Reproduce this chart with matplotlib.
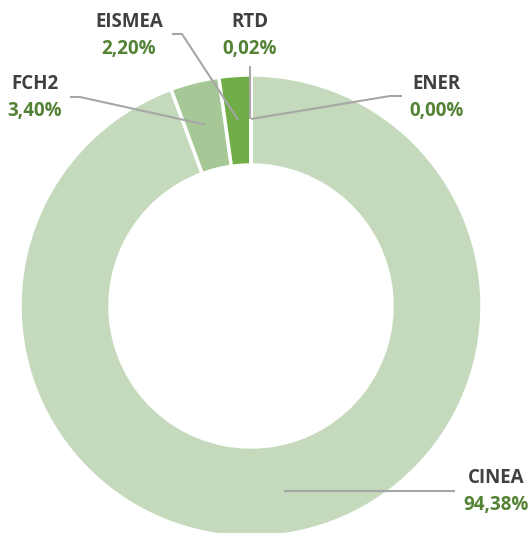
import numpy as np
import matplotlib.pyplot as plt

names = ['CINEA', 'FCH2', 'EISMEA', 'RTD', 'ENER']
values = [94.38, 3.40, 2.20, 0.02, 0.00]
colors = ['#c5d9bc', '#a6c897', '#70ad47', '#8fbf6e', '#b7d4a6']

# label layout in pixel coords: text centre, elbow point
label_pos = {
    'CINEA': (496, 478, 455, 491),
    'FCH2': (35, 84, 80, 97),
    'EISMEA': (129, 22, 182, 34),
    'RTD': (250, 22, 250, 66),
    'ENER': (437, 84, 390, 96),
}
label_start = {'CINEA': 455, 'FCH2': 70, 'EISMEA': 172, 'RTD': 250, 'ENER': 402}

W, H = 531, 533
fig = plt.figure(figsize=(W / 100, H / 100), dpi=100)
ax = fig.add_axes([0, 0, 1, 1])

cx, cy, R, r_in = 251, H - 306, 231, 141
ax.pie(values, colors=colors, startangle=90, counterclock=False,
       center=(cx, cy), radius=R, frame=True,
       wedgeprops=dict(width=R - r_in, edgecolor='white', linewidth=2.5))
ax.set_xlim(0, W)
ax.set_ylim(0, H)
ax.set_aspect('equal')
ax.axis('off')

tot = sum(values)
ang = 90
r_mid = 187
for n, v in zip(names, values):
    a = ang - v / tot * 180
    ang -= v / tot * 360
    px = cx + r_mid * np.cos(np.radians(a))
    py = cy + r_mid * np.sin(np.radians(a))
    tx, ty, ex, ey = label_pos[n]
    sx = label_start[n]
    if n == 'RTD':
        xs, ys = [ex, ex], [H - ey, py]
    elif n == 'CINEA':
        xs, ys = [sx, px], [H - ey, H - ey]
    else:
        xs, ys = [sx, ex, px], [H - ey, H - ey, py]
    ax.plot(xs, ys, color='#a6a6a6', lw=1.5, solid_capstyle='butt')
    ax.text(tx, H - ty, n, ha='center', va='center', fontsize=13.5,
            fontweight='bold', color='#404040', family='Open Sans')
    ax.text(tx, H - ty - 27, f'{v:.2f}%'.replace('.', ','), ha='center',
            va='center', fontsize=13.5, fontweight='bold', color='#548235',
            family='Open Sans')

plt.savefig('out.png', dpi=100)
